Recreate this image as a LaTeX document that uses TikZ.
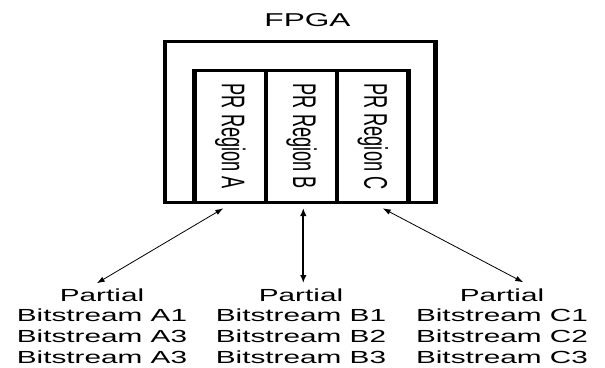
\documentclass[tikz,border=0pt]{standalone}
\usepackage{fontspec}
\setmainfont{Liberation Sans}
\newfontfamily\widefont[FakeStretch=1.7]{Liberation Sans}
\usetikzlibrary{arrows.meta}
\tikzset{
  framebox/.style={draw, line width=3pt, inner sep=0pt, outer sep=0pt},
  vedge/.style={line width=4.8pt, shorten <=-1.5pt, shorten >=-1.5pt},
  btext/.style={font=\widefont\fontsize{17.5}{20.6}\selectfont, align=center, inner sep=0pt, anchor=north},
  arrthin/.style={line width=0.8pt, {Latex[length=8pt,width=5.5pt]}-{Latex[length=8pt,width=5.5pt]}},
  arrthick/.style={line width=1.7pt, {Latex[length=8pt,width=6.5pt]}-{Latex[length=8pt,width=6.5pt]}}
}
\newcommand{\prlabel}[1]{\scalebox{1.8}[1]{\rotatebox{-90}{\fontsize{18.2}{18.2}\selectfont #1}}}
\begin{document}
\begin{tikzpicture}[x=1pt,y=-1pt]
\useasboundingbox (0,0) rectangle (605,367);
% FPGA outer box
\node[framebox, minimum width=270.3pt, minimum height=160.6pt] (fpga) at (300.15,122) {};
\node[font=\widefont\fontsize{18.6}{18.6}\selectfont, anchor=base, inner sep=0pt] (title) at (307.5,26.7) {FPGA};
% PR regions
\node[framebox, minimum width=71.3pt, minimum height=131.8pt] (regA) at (230.35,136.4) {\prlabel{PR Region A}};
\node[framebox, minimum width=71pt, minimum height=131.8pt] (regB) at (301.5,136.4) {\prlabel{PR Region B}};
\node[framebox, minimum width=71.7pt, minimum height=131.8pt] (regC) at (372.85,136.4) {\prlabel{PR Region C}};
% thicker vertical edges
\draw[vedge] (fpga.north west) -- (fpga.south west);
\draw[vedge] (fpga.north east) -- (fpga.south east);
\draw[vedge] (regA.north west) -- (regA.south west);
\draw[vedge] (regA.north east) -- (regA.south east);
\draw[vedge] (regC.north west) -- (regC.south west);
\draw[vedge] (regC.north east) -- (regC.south east);
% bitstream texts
\node[btext] (bsA) at (102,288.5) {Partial\\Bitstream A1\\Bitstream A3\\Bitstream A3};
\node[btext] (bsB) at (301,288.5) {Partial\\Bitstream B1\\Bitstream B2\\Bitstream B3};
\node[btext] (bsC) at (502,288.5) {Partial\\Bitstream C1\\Bitstream C2\\Bitstream C3};
% arrows
\draw[arrthin] ([xshift=-7pt,yshift=-6pt]regA.south) -- ([xshift=-5.3pt,yshift=5.2pt]bsA.north);
\draw[arrthick] ([xshift=1.8pt,yshift=-5.7pt]regB.south) -- ([xshift=2.3pt,yshift=5.5pt]bsB.north);
\draw[arrthin] ([xshift=9.85pt,yshift=-6pt]regC.south) -- ([xshift=21.3pt,yshift=6.2pt]bsC.north);
\end{tikzpicture}
\end{document}
